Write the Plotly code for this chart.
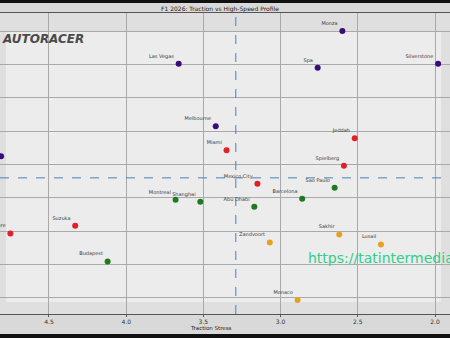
import plotly.graph_objects as go

# ---- data ----
circuits = ["Monza", "Spa", "Silverstone", "Las Vegas", "Melbourne", "Baku",
            "Miami", "Jeddah", "Spielberg", "Mexico City", "Suzuka", "Singapore",
            "Montreal", "Shanghai", "Sao Paulo", "Barcelona", "Abu Dhabi", "Budapest",
            "Zandvoort", "Sakhir", "Lusail", "Monaco"]
traction = [2.60, 2.76, 1.98, 3.66, 3.42, 4.81,
            3.35, 2.52, 2.59, 3.15, 4.33, 4.75,
            3.68, 3.52, 2.65, 2.86, 3.17, 4.12,
            3.07, 2.62, 2.35, 2.89]
high_speed = [9.01, 7.91, 8.03, 8.03, 6.15, 5.25,
              5.43, 5.79, 4.96, 4.42, 3.16, 2.93,
              3.94, 3.88, 4.30, 3.97, 3.73, 2.09,
              2.66, 2.90, 2.60, 0.93]
groups = ["Power", "Power", "Power", "Power", "Power", "Power",
          "Balanced", "Balanced", "Balanced", "Balanced", "Balanced", "Balanced",
          "Mixed", "Mixed", "Mixed", "Mixed", "Mixed", "Mixed",
          "Technical", "Technical", "Technical", "Technical"]
group_order = ["Power", "Balanced", "Mixed", "Technical"]
group_colors = {"Power": "#3a0c78", "Balanced": "#e0202a",
                "Mixed": "#1f7a1f", "Technical": "#e6a21e"}
mean_traction = 3.29
mean_high_speed = 4.60
x_ticks = [4.5, 4.0, 3.5, 3.0, 2.5, 2.0]

fig = go.Figure()
for g in group_order:
    idx = [i for i, gg in enumerate(groups) if gg == g]
    fig.add_trace(go.Scatter(
        x=[traction[i] for i in idx],
        y=[high_speed[i] for i in idx],
        text=[circuits[i] for i in idx],
        mode="markers+text",
        textposition="top left",
        textfont=dict(size=5, color="#3a3a3a", family="DejaVu Sans"),
        marker=dict(size=6, color=group_colors[g]),
        name=g, showlegend=False, cliponaxis=True,
    ))

# mean reference lines
fig.add_vline(x=mean_traction, line=dict(color="#4a80b4", width=1, dash="dash"))
fig.add_hline(y=mean_high_speed, line=dict(color="#4a80b4", width=1, dash="dash"))

W, H = 450, 338
ml, mr, mt, mb = 0, 0, 13, 24
pw, ph = W - ml - mr, H - mt - mb

def px2paper_x(px):
    return (px - ml) / pw

def py2paper_y(py):
    return (H - mb - py) / ph

# lighter inner panel (below grid)
fig.add_shape(type="rect", xref="paper", yref="paper", layer="below",
              x0=px2paper_x(6), x1=px2paper_x(441),
              y0=py2paper_y(302), y1=py2paper_y(32),
              fillcolor="#ececec", line=dict(width=0))
# dark photo borders
fig.add_shape(type="rect", xref="paper", yref="paper", layer="above",
              x0=0, x1=1, y0=py2paper_y(3), y1=py2paper_y(0),
              fillcolor="#111111", line=dict(width=0))
fig.add_shape(type="rect", xref="paper", yref="paper", layer="above",
              x0=0, x1=1, y0=py2paper_y(338), y1=py2paper_y(334),
              fillcolor="#111111", line=dict(width=0))

fig.add_annotation(text="F1 2026: Traction vs High-Speed Profile",
                   xref="paper", yref="paper", x=px2paper_x(220), y=py2paper_y(8.5),
                   xanchor="center", yanchor="middle",
                   showarrow=False, font=dict(size=6, color="#222222", family="DejaVu Sans"))
fig.add_annotation(text="Traction Stress",
                   xref="paper", yref="paper", x=px2paper_x(211), y=py2paper_y(328),
                   xanchor="center", yanchor="middle",
                   showarrow=False, font=dict(size=5.5, color="#222222", family="DejaVu Sans"))
fig.add_annotation(text="<b><i>AUTORACER</i></b>",
                   xref="paper", yref="paper", x=px2paper_x(0), y=py2paper_y(39),
                   xanchor="left", yanchor="middle", showarrow=False,
                   font=dict(size=12, color="#4a4a4a", family="DejaVu Sans"))
fig.add_annotation(text="https://tatintermedia.com",
                   xref="paper", yref="paper", x=px2paper_x(306), y=py2paper_y(258),
                   xanchor="left", yanchor="middle", showarrow=False,
                   font=dict(size=14, color="#2fcf8a", family="DejaVu Sans"))

fig.update_layout(
    width=W, height=H,
    margin=dict(l=ml, r=mr, t=mt, b=mb),
    paper_bgcolor="#d9d9d9",
    plot_bgcolor="#dfdfdf",
    font=dict(family="DejaVu Sans", size=6, color="#333333"),
    xaxis=dict(range=[4.817, 1.903], tickvals=x_ticks,
               ticktext=[f"{v:.1f}" for v in x_ticks],
               showgrid=True, gridcolor="#a9a9a9", gridwidth=1,
               zeroline=False, showline=True, linecolor="#555555", linewidth=1,
               mirror=True, ticks="outside", ticklen=2, tickcolor="#555555",
               tickfont=dict(size=6, color="#333333")),
    yaxis=dict(range=[0.51, 9.552], dtick=1, tick0=1,
               showgrid=True, gridcolor="#a9a9a9", gridwidth=1,
               zeroline=False, showticklabels=False, showline=False),
)

fig.write_html("out.html")
